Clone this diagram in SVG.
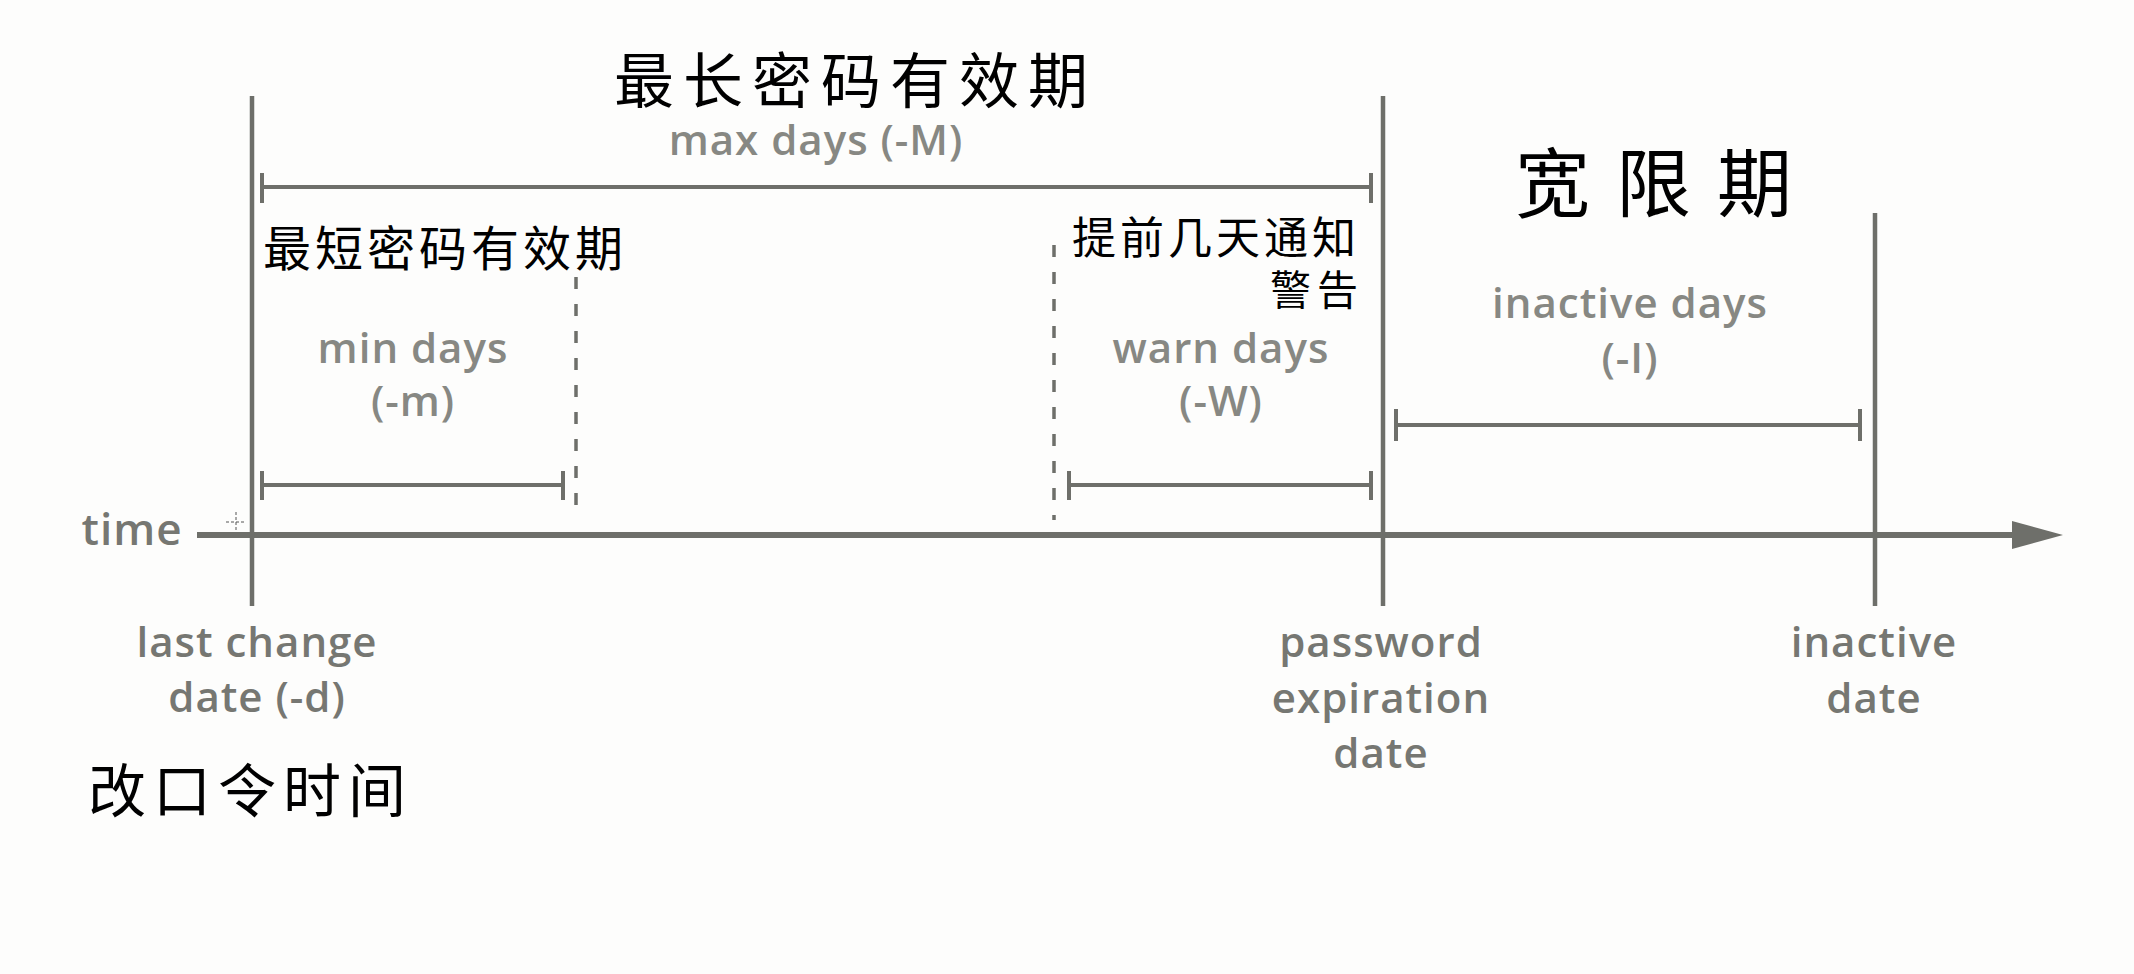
<svg xmlns="http://www.w3.org/2000/svg" width="2134" height="974" viewBox="0 0 2134 974">
<style>
.ln{stroke:#6e6f6a;stroke-width:4.5;fill:none}
.ax{stroke:#6e6f6a;stroke-width:6;fill:none}
.bar{stroke:#6e6f6a;stroke-width:4;fill:none}
.dot{stroke:#6e6f6a;stroke-width:3.5;fill:none;stroke-dasharray:12 15}
.lbl{font-family:"Open Sans","Liberation Sans",sans-serif;font-size:42px;font-weight:600;fill:#878883;text-anchor:middle;letter-spacing:1px}
.lbl2{font-family:"Open Sans","Liberation Sans",sans-serif;font-size:42px;font-weight:600;fill:#767772;text-anchor:middle;letter-spacing:1px}
.hw{font-family:"Noto Sans CJK SC","Noto Sans CJK TC",sans-serif;fill:#000;font-weight:400}
</style>
<rect width="2134" height="974" fill="#fdfdfc"/>
<g id="connectors">
<line class="ax" x1="197" y1="535" x2="2014" y2="535"/>
<path d="M2012,521 L2063,535 L2012,549 Z" fill="#6e6f6a"/>
<line class="dot" x1="576" y1="277" x2="576" y2="520"/>
<line class="dot" x1="1054" y1="245" x2="1054" y2="520"/>
</g>
<g id="last-change">
<line class="ln" x1="252" y1="96" x2="252" y2="606"/>
<text class="lbl2" x="257" y="657">last change</text>
<text class="lbl2" x="257" y="712">date (-d)</text>
</g>
<g id="password-expiration">
<line class="ln" x1="1383" y1="96" x2="1383" y2="606"/>
<text class="lbl2" x="1381" y="657">password</text>
<text class="lbl2" x="1381" y="713">expiration</text>
<text class="lbl2" x="1381" y="768">date</text>
</g>
<g id="inactive-date">
<line class="ln" x1="1875" y1="213" x2="1875" y2="606"/>
<text class="lbl2" x="1874" y="657">inactive</text>
<text class="lbl2" x="1874" y="713">date</text>
</g>
<g id="time-label">
<text class="lbl2" x="132" y="545" style="font-size:44px">time</text>
</g>
<g id="max-days">
<line class="bar" x1="262" y1="187" x2="1371" y2="187"/>
<line class="bar" x1="262" y1="173" x2="262" y2="203"/>
<line class="bar" x1="1371" y1="173" x2="1371" y2="203"/>
<text class="lbl" x="816" y="155">max days (-M)</text>
</g>
<g id="min-days">
<line class="bar" x1="262" y1="485" x2="563" y2="485"/>
<line class="bar" x1="262" y1="471" x2="262" y2="500"/>
<line class="bar" x1="563" y1="471" x2="563" y2="500"/>
<text class="lbl" x="413" y="363">min days</text>
<text class="lbl" x="413" y="416">(-m)</text>
</g>
<g id="warn-days">
<line class="bar" x1="1069" y1="485" x2="1371" y2="485"/>
<line class="bar" x1="1069" y1="471" x2="1069" y2="500"/>
<line class="bar" x1="1371" y1="471" x2="1371" y2="500"/>
<text class="lbl" x="1221" y="363">warn days</text>
<text class="lbl" x="1221" y="416">(-W)</text>
</g>
<g id="inactive-days">
<line class="bar" x1="1396" y1="425" x2="1860" y2="425"/>
<line class="bar" x1="1396" y1="409" x2="1396" y2="441"/>
<line class="bar" x1="1860" y1="409" x2="1860" y2="441"/>
<text class="lbl" x="1630" y="318">inactive days</text>
<text class="lbl" x="1630" y="373">(-I)</text>
</g>
<g id="handwriting">
<text class="hw" x="614" y="103" font-size="60" letter-spacing="9">最长密码有效期</text>
<text class="hw" x="263" y="266" font-size="48" letter-spacing="4">最短密码有效期</text>
<text class="hw" x="1072" y="254" font-size="44" letter-spacing="4">提前几天通知</text>
<text class="hw" x="1270" y="305" font-size="41" letter-spacing="6">警告</text>
<text class="hw" x="1515" y="211" font-size="75" letter-spacing="26">宽限期</text>
<text class="hw" x="88" y="812" font-size="58" letter-spacing="7">改口令时间</text>
</g>
<g id="cursor">
<line x1="226" y1="522" x2="246" y2="522" stroke="#555" stroke-width="1" stroke-dasharray="3 2"/>
<line x1="236" y1="512" x2="236" y2="532" stroke="#555" stroke-width="1" stroke-dasharray="3 2"/>
</g>
</svg>
